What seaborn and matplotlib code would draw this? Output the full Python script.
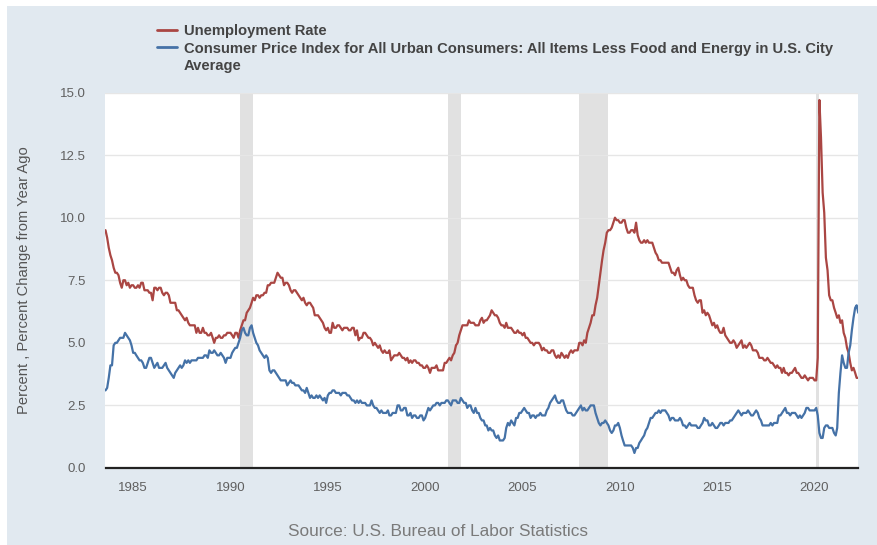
import pandas as pd
import numpy as np
import matplotlib.pyplot as plt
import matplotlib.dates as mdates
from matplotlib.lines import Line2D
from matplotlib.patches import Rectangle
import seaborn as sns

sns.set_style("white")
plt.rcParams['font.family'] = ['Liberation Sans', 'DejaVu Sans']

# monthly series, Aug 1983 .. Apr 2022
start_month = "1983-08-01"

unemployment_rate = [
    9.5, 9.2, 8.8, 8.5, 8.3,                                        # 1983 (Aug-Dec)
    8.0, 7.8, 7.8, 7.7, 7.4, 7.2, 7.5, 7.5, 7.3, 7.4, 7.2, 7.3,     # 1984
    7.3, 7.2, 7.2, 7.3, 7.2, 7.4, 7.4, 7.1, 7.1, 7.1, 7.0, 7.0,     # 1985
    6.7, 7.2, 7.2, 7.1, 7.2, 7.2, 7.0, 6.9, 7.0, 7.0, 6.9, 6.6,     # 1986
    6.6, 6.6, 6.6, 6.3, 6.3, 6.2, 6.1, 6.0, 5.9, 6.0, 5.8, 5.7,     # 1987
    5.7, 5.7, 5.7, 5.4, 5.6, 5.4, 5.4, 5.6, 5.4, 5.4, 5.3, 5.3,     # 1988
    5.4, 5.2, 5.0, 5.2, 5.2, 5.3, 5.2, 5.2, 5.3, 5.3, 5.4, 5.4,     # 1989
    5.4, 5.3, 5.2, 5.4, 5.4, 5.2, 5.5, 5.7, 5.9, 5.9, 6.2, 6.3,     # 1990
    6.4, 6.6, 6.8, 6.7, 6.9, 6.9, 6.8, 6.9, 6.9, 7.0, 7.0, 7.3,     # 1991
    7.3, 7.4, 7.4, 7.4, 7.6, 7.8, 7.7, 7.6, 7.6, 7.3, 7.4, 7.4,     # 1992
    7.3, 7.1, 7.0, 7.1, 7.1, 7.0, 6.9, 6.8, 6.7, 6.8, 6.6, 6.5,     # 1993
    6.6, 6.6, 6.5, 6.4, 6.1, 6.1, 6.1, 6.0, 5.9, 5.8, 5.6, 5.5,     # 1994
    5.6, 5.4, 5.4, 5.8, 5.6, 5.6, 5.7, 5.7, 5.6, 5.5, 5.6, 5.6,     # 1995
    5.6, 5.5, 5.5, 5.6, 5.6, 5.3, 5.5, 5.1, 5.2, 5.2, 5.4, 5.4,     # 1996
    5.3, 5.2, 5.2, 5.1, 4.9, 5.0, 4.9, 4.8, 4.9, 4.7, 4.6, 4.7,     # 1997
    4.6, 4.6, 4.7, 4.3, 4.4, 4.5, 4.5, 4.5, 4.6, 4.5, 4.4, 4.4,     # 1998
    4.3, 4.4, 4.2, 4.3, 4.2, 4.3, 4.3, 4.2, 4.2, 4.1, 4.1, 4.0,     # 1999
    4.0, 4.1, 4.0, 3.8, 4.0, 4.0, 4.0, 4.1, 3.9, 3.9, 3.9, 3.9,     # 2000
    4.2, 4.2, 4.3, 4.4, 4.3, 4.5, 4.6, 4.9, 5.0, 5.3, 5.5, 5.7,     # 2001
    5.7, 5.7, 5.7, 5.9, 5.8, 5.8, 5.8, 5.7, 5.7, 5.7, 5.9, 6.0,     # 2002
    5.8, 5.9, 5.9, 6.0, 6.1, 6.3, 6.2, 6.1, 6.1, 6.0, 5.8, 5.7,     # 2003
    5.7, 5.6, 5.8, 5.6, 5.6, 5.6, 5.5, 5.4, 5.4, 5.5, 5.4, 5.4,     # 2004
    5.3, 5.4, 5.2, 5.2, 5.1, 5.0, 5.0, 4.9, 5.0, 5.0, 5.0, 4.9,     # 2005
    4.7, 4.8, 4.7, 4.7, 4.6, 4.6, 4.7, 4.7, 4.5, 4.4, 4.5, 4.4,     # 2006
    4.6, 4.5, 4.4, 4.5, 4.4, 4.6, 4.7, 4.6, 4.7, 4.7, 4.7, 5.0,     # 2007
    5.0, 4.9, 5.1, 5.0, 5.4, 5.6, 5.8, 6.1, 6.1, 6.5, 6.8, 7.3,     # 2008
    7.8, 8.3, 8.7, 9.0, 9.4, 9.5, 9.5, 9.6, 9.8, 10.0, 9.9, 9.9,    # 2009
    9.8, 9.8, 9.9, 9.9, 9.6, 9.4, 9.4, 9.5, 9.5, 9.4, 9.8, 9.3,     # 2010
    9.1, 9.0, 9.0, 9.1, 9.0, 9.1, 9.0, 9.0, 9.0, 8.8, 8.6, 8.5,     # 2011
    8.3, 8.3, 8.2, 8.2, 8.2, 8.2, 8.2, 8.0, 7.8, 7.8, 7.7, 7.9,     # 2012
    8.0, 7.7, 7.5, 7.6, 7.5, 7.5, 7.3, 7.2, 7.2, 7.2, 6.9, 6.7,     # 2013
    6.6, 6.7, 6.7, 6.2, 6.3, 6.1, 6.2, 6.1, 5.9, 5.7, 5.8, 5.6,     # 2014
    5.7, 5.5, 5.4, 5.4, 5.6, 5.3, 5.2, 5.1, 5.0, 5.0, 5.1, 5.0,     # 2015
    4.8, 4.9, 5.0, 5.1, 4.8, 4.9, 4.8, 4.9, 5.0, 4.9, 4.7, 4.7,     # 2016
    4.7, 4.6, 4.4, 4.4, 4.4, 4.3, 4.3, 4.4, 4.3, 4.2, 4.2, 4.1,     # 2017
    4.0, 4.1, 4.0, 4.0, 3.8, 4.0, 3.8, 3.8, 3.7, 3.8, 3.8, 3.9,     # 2018
    4.0, 3.8, 3.8, 3.7, 3.6, 3.6, 3.7, 3.6, 3.5, 3.6, 3.6, 3.6,     # 2019
    3.5, 3.5, 4.4, 14.7, 13.2, 11.0, 10.2, 8.4, 7.9, 6.9, 6.7, 6.7, # 2020
    6.4, 6.2, 6.0, 6.1, 5.8, 5.9, 5.4, 5.2, 4.8, 4.6, 4.2, 3.9,     # 2021
    4.0, 3.8, 3.6, 3.6,                                             # 2022 (Jan-Apr)
]

core_cpi_yoy = [
    3.1, 3.2, 3.6, 4.1, 4.1,                                        # 1983 (Aug-Dec)
    4.9, 5.0, 5.0, 5.1, 5.2, 5.2, 5.2, 5.4, 5.3, 5.2, 5.1, 4.9,     # 1984
    4.6, 4.6, 4.5, 4.4, 4.3, 4.3, 4.2, 4.0, 4.0, 4.2, 4.4, 4.4,     # 1985
    4.2, 4.0, 4.1, 4.2, 4.0, 4.0, 4.0, 4.1, 4.2, 4.0, 3.9, 3.8,     # 1986
    3.7, 3.6, 3.8, 3.9, 4.0, 4.1, 4.0, 4.1, 4.3, 4.2, 4.3, 4.2,     # 1987
    4.3, 4.3, 4.3, 4.3, 4.4, 4.4, 4.4, 4.4, 4.5, 4.5, 4.4, 4.7,     # 1988
    4.6, 4.6, 4.7, 4.6, 4.5, 4.5, 4.6, 4.5, 4.4, 4.2, 4.4, 4.4,     # 1989
    4.4, 4.6, 4.7, 4.8, 4.8, 5.0, 5.2, 5.5, 5.6, 5.4, 5.3, 5.3,     # 1990
    5.6, 5.7, 5.4, 5.2, 5.0, 4.9, 4.7, 4.6, 4.5, 4.4, 4.5, 4.4,     # 1991
    3.9, 3.8, 3.9, 3.9, 3.8, 3.7, 3.6, 3.5, 3.5, 3.5, 3.5, 3.3,     # 1992
    3.4, 3.5, 3.4, 3.4, 3.3, 3.3, 3.3, 3.2, 3.1, 3.1, 3.0, 3.2,     # 1993
    3.0, 2.8, 2.9, 2.8, 2.8, 2.9, 2.8, 2.9, 2.8, 2.7, 2.8, 2.6,     # 1994
    2.9, 3.0, 3.0, 3.1, 3.1, 3.0, 3.0, 3.0, 2.9, 3.0, 3.0, 3.0,     # 1995
    2.9, 2.9, 2.8, 2.7, 2.7, 2.6, 2.7, 2.6, 2.7, 2.6, 2.6, 2.6,     # 1996
    2.5, 2.5, 2.5, 2.7, 2.5, 2.4, 2.4, 2.3, 2.2, 2.3, 2.2, 2.2,     # 1997
    2.2, 2.3, 2.1, 2.1, 2.2, 2.2, 2.2, 2.5, 2.5, 2.3, 2.3, 2.4,     # 1998
    2.4, 2.1, 2.1, 2.2, 2.0, 2.1, 2.1, 2.0, 2.0, 2.1, 2.1, 1.9,     # 1999
    2.0, 2.2, 2.4, 2.3, 2.4, 2.5, 2.5, 2.6, 2.6, 2.5, 2.6, 2.6,     # 2000
    2.6, 2.7, 2.7, 2.6, 2.5, 2.7, 2.7, 2.7, 2.6, 2.6, 2.8, 2.7,     # 2001
    2.6, 2.6, 2.4, 2.5, 2.5, 2.3, 2.2, 2.4, 2.2, 2.2, 2.0, 1.9,     # 2002
    1.9, 1.7, 1.7, 1.5, 1.6, 1.5, 1.5, 1.3, 1.2, 1.3, 1.1, 1.1,     # 2003
    1.1, 1.2, 1.6, 1.8, 1.7, 1.9, 1.8, 1.7, 2.0, 2.0, 2.2, 2.2,     # 2004
    2.3, 2.4, 2.3, 2.2, 2.2, 2.0, 2.1, 2.1, 2.0, 2.1, 2.1, 2.2,     # 2005
    2.1, 2.1, 2.1, 2.3, 2.4, 2.6, 2.7, 2.8, 2.9, 2.7, 2.6, 2.6,     # 2006
    2.7, 2.7, 2.5, 2.3, 2.2, 2.2, 2.2, 2.1, 2.1, 2.2, 2.3, 2.4,     # 2007
    2.5, 2.3, 2.4, 2.3, 2.3, 2.4, 2.5, 2.5, 2.5, 2.2, 2.0, 1.8,     # 2008
    1.7, 1.8, 1.8, 1.9, 1.8, 1.7, 1.5, 1.4, 1.5, 1.7, 1.7, 1.8,     # 2009
    1.6, 1.3, 1.1, 0.9, 0.9, 0.9, 0.9, 0.9, 0.8, 0.6, 0.8, 0.8,     # 2010
    1.0, 1.1, 1.2, 1.3, 1.5, 1.6, 1.8, 2.0, 2.0, 2.1, 2.2, 2.2,     # 2011
    2.3, 2.2, 2.3, 2.3, 2.3, 2.2, 2.1, 1.9, 2.0, 2.0, 1.9, 1.9,     # 2012
    1.9, 2.0, 1.9, 1.7, 1.7, 1.6, 1.7, 1.8, 1.7, 1.7, 1.7, 1.7,     # 2013
    1.6, 1.6, 1.7, 1.8, 2.0, 1.9, 1.9, 1.7, 1.7, 1.8, 1.7, 1.6,     # 2014
    1.6, 1.7, 1.8, 1.8, 1.7, 1.8, 1.8, 1.8, 1.9, 1.9, 2.0, 2.1,     # 2015
    2.2, 2.3, 2.2, 2.1, 2.2, 2.2, 2.2, 2.3, 2.2, 2.1, 2.1, 2.2,     # 2016
    2.3, 2.2, 2.0, 1.9, 1.7, 1.7, 1.7, 1.7, 1.7, 1.8, 1.7, 1.8,     # 2017
    1.8, 1.8, 2.1, 2.1, 2.2, 2.3, 2.4, 2.2, 2.2, 2.1, 2.2, 2.2,     # 2018
    2.2, 2.1, 2.0, 2.1, 2.0, 2.1, 2.2, 2.4, 2.4, 2.3, 2.3, 2.3,     # 2019
    2.3, 2.4, 2.1, 1.4, 1.2, 1.2, 1.6, 1.7, 1.7, 1.6, 1.6, 1.6,     # 2020
    1.4, 1.3, 1.6, 3.0, 3.8, 4.5, 4.2, 4.0, 4.0, 4.6, 4.9, 5.5,     # 2021
    6.0, 6.4, 6.5, 6.2,                                             # 2022 (Jan-Apr)
]

series_names = [
    "Unemployment Rate",
    "Consumer Price Index for All Urban Consumers: All Items Less Food and Energy in U.S. City",
]
legend_wrap = "Average"
series_colors = ["#AA4643", "#4572A7"]

recession_starts = ["1990-07-01", "2001-03-01", "2007-12-01", "2020-02-01"]
recession_ends = ["1991-03-01", "2001-11-01", "2009-06-01", "2020-04-01"]

y_ticks = [0.0, 2.5, 5.0, 7.5, 10.0, 12.5, 15.0]
y_label = "Percent , Percent Change from Year Ago"
source_note = "Source: U.S. Bureau of Labor Statistics"

dates = pd.date_range(start_month, periods=len(unemployment_rate), freq="MS")
df = pd.concat([
    pd.DataFrame({"date": dates, "value": unemployment_rate, "series": series_names[0]}),
    pd.DataFrame({"date": dates, "value": core_cpi_yoy, "series": series_names[1]}),
])

fig = plt.figure(figsize=(8.78, 5.45), dpi=100)
fig.patch.set_facecolor("white")
fig.patches.append(Rectangle((7 / 878, 0), 1, 1 - 6 / 545, transform=fig.transFigure,
                             facecolor="#e1e9f0", edgecolor="none", zorder=-10))

ax = fig.add_axes([105.5 / 878, 1 - 468 / 545, (858.3 - 105.5) / 878, (468 - 92.5) / 545])
ax.set_facecolor("white")

for s, e in zip(recession_starts, recession_ends):
    ax.axvspan(pd.Timestamp(s), pd.Timestamp(e), color="#e1e1e1", lw=0, zorder=0)

sns.lineplot(data=df, x="date", y="value", hue="series", palette=series_colors,
             hue_order=series_names, linewidth=1.6, legend=False, ax=ax, zorder=3)

ax.set_xlim(dates[0], dates[-1])
ax.set_ylim(0, 15)
ax.set_yticks(y_ticks)
ax.set_yticklabels([f"{t:.1f}" for t in y_ticks])
ax.yaxis.grid(True, color="#e6e6e6", lw=1)
ax.xaxis.grid(False)
ax.xaxis.set_major_locator(mdates.YearLocator(5))
ax.xaxis.set_major_formatter(mdates.DateFormatter("%Y"))

for side in ["top", "right", "left"]:
    ax.spines[side].set_visible(False)
ax.spines["bottom"].set_color("#222222")
ax.spines["bottom"].set_linewidth(1.6)
ax.spines["bottom"].set_zorder(5)

ax.tick_params(axis="y", length=0, pad=14, labelsize=9.5, labelcolor="#606060")
ax.tick_params(axis="x", length=8, width=1, color="#c8d7e8", pad=2,
               labelsize=9.5, labelcolor="#606060", direction="out")

ax.set_xlabel("")
ax.set_ylabel(y_label, fontsize=10.6, color="#555555")
ax.yaxis.set_label_coords((31.5 - 105.5) / (858.3 - 105.5), 0.5)

handles = [Line2D([], [], color=series_colors[0], lw=2),
           Line2D([], [], color=series_colors[1], lw=2),
           Line2D([], [], color="none", lw=2)]
fig.legend(handles, series_names + [legend_wrap], loc="upper left",
           bbox_to_anchor=(157 / 878, 1 - 24 / 545), frameon=False,
           prop={"size": 10.6, "weight": "bold"}, labelcolor="#444444",
           handlelength=1.36, handletextpad=0.48, labelspacing=0.24,
           borderpad=0, borderaxespad=0)

fig.text(438 / 878, 1 - 531 / 545, source_note, ha="center", va="center",
         fontsize=12.4, color="#7a7a7a")

fig.savefig("out.png", dpi=100, facecolor=fig.get_facecolor())
